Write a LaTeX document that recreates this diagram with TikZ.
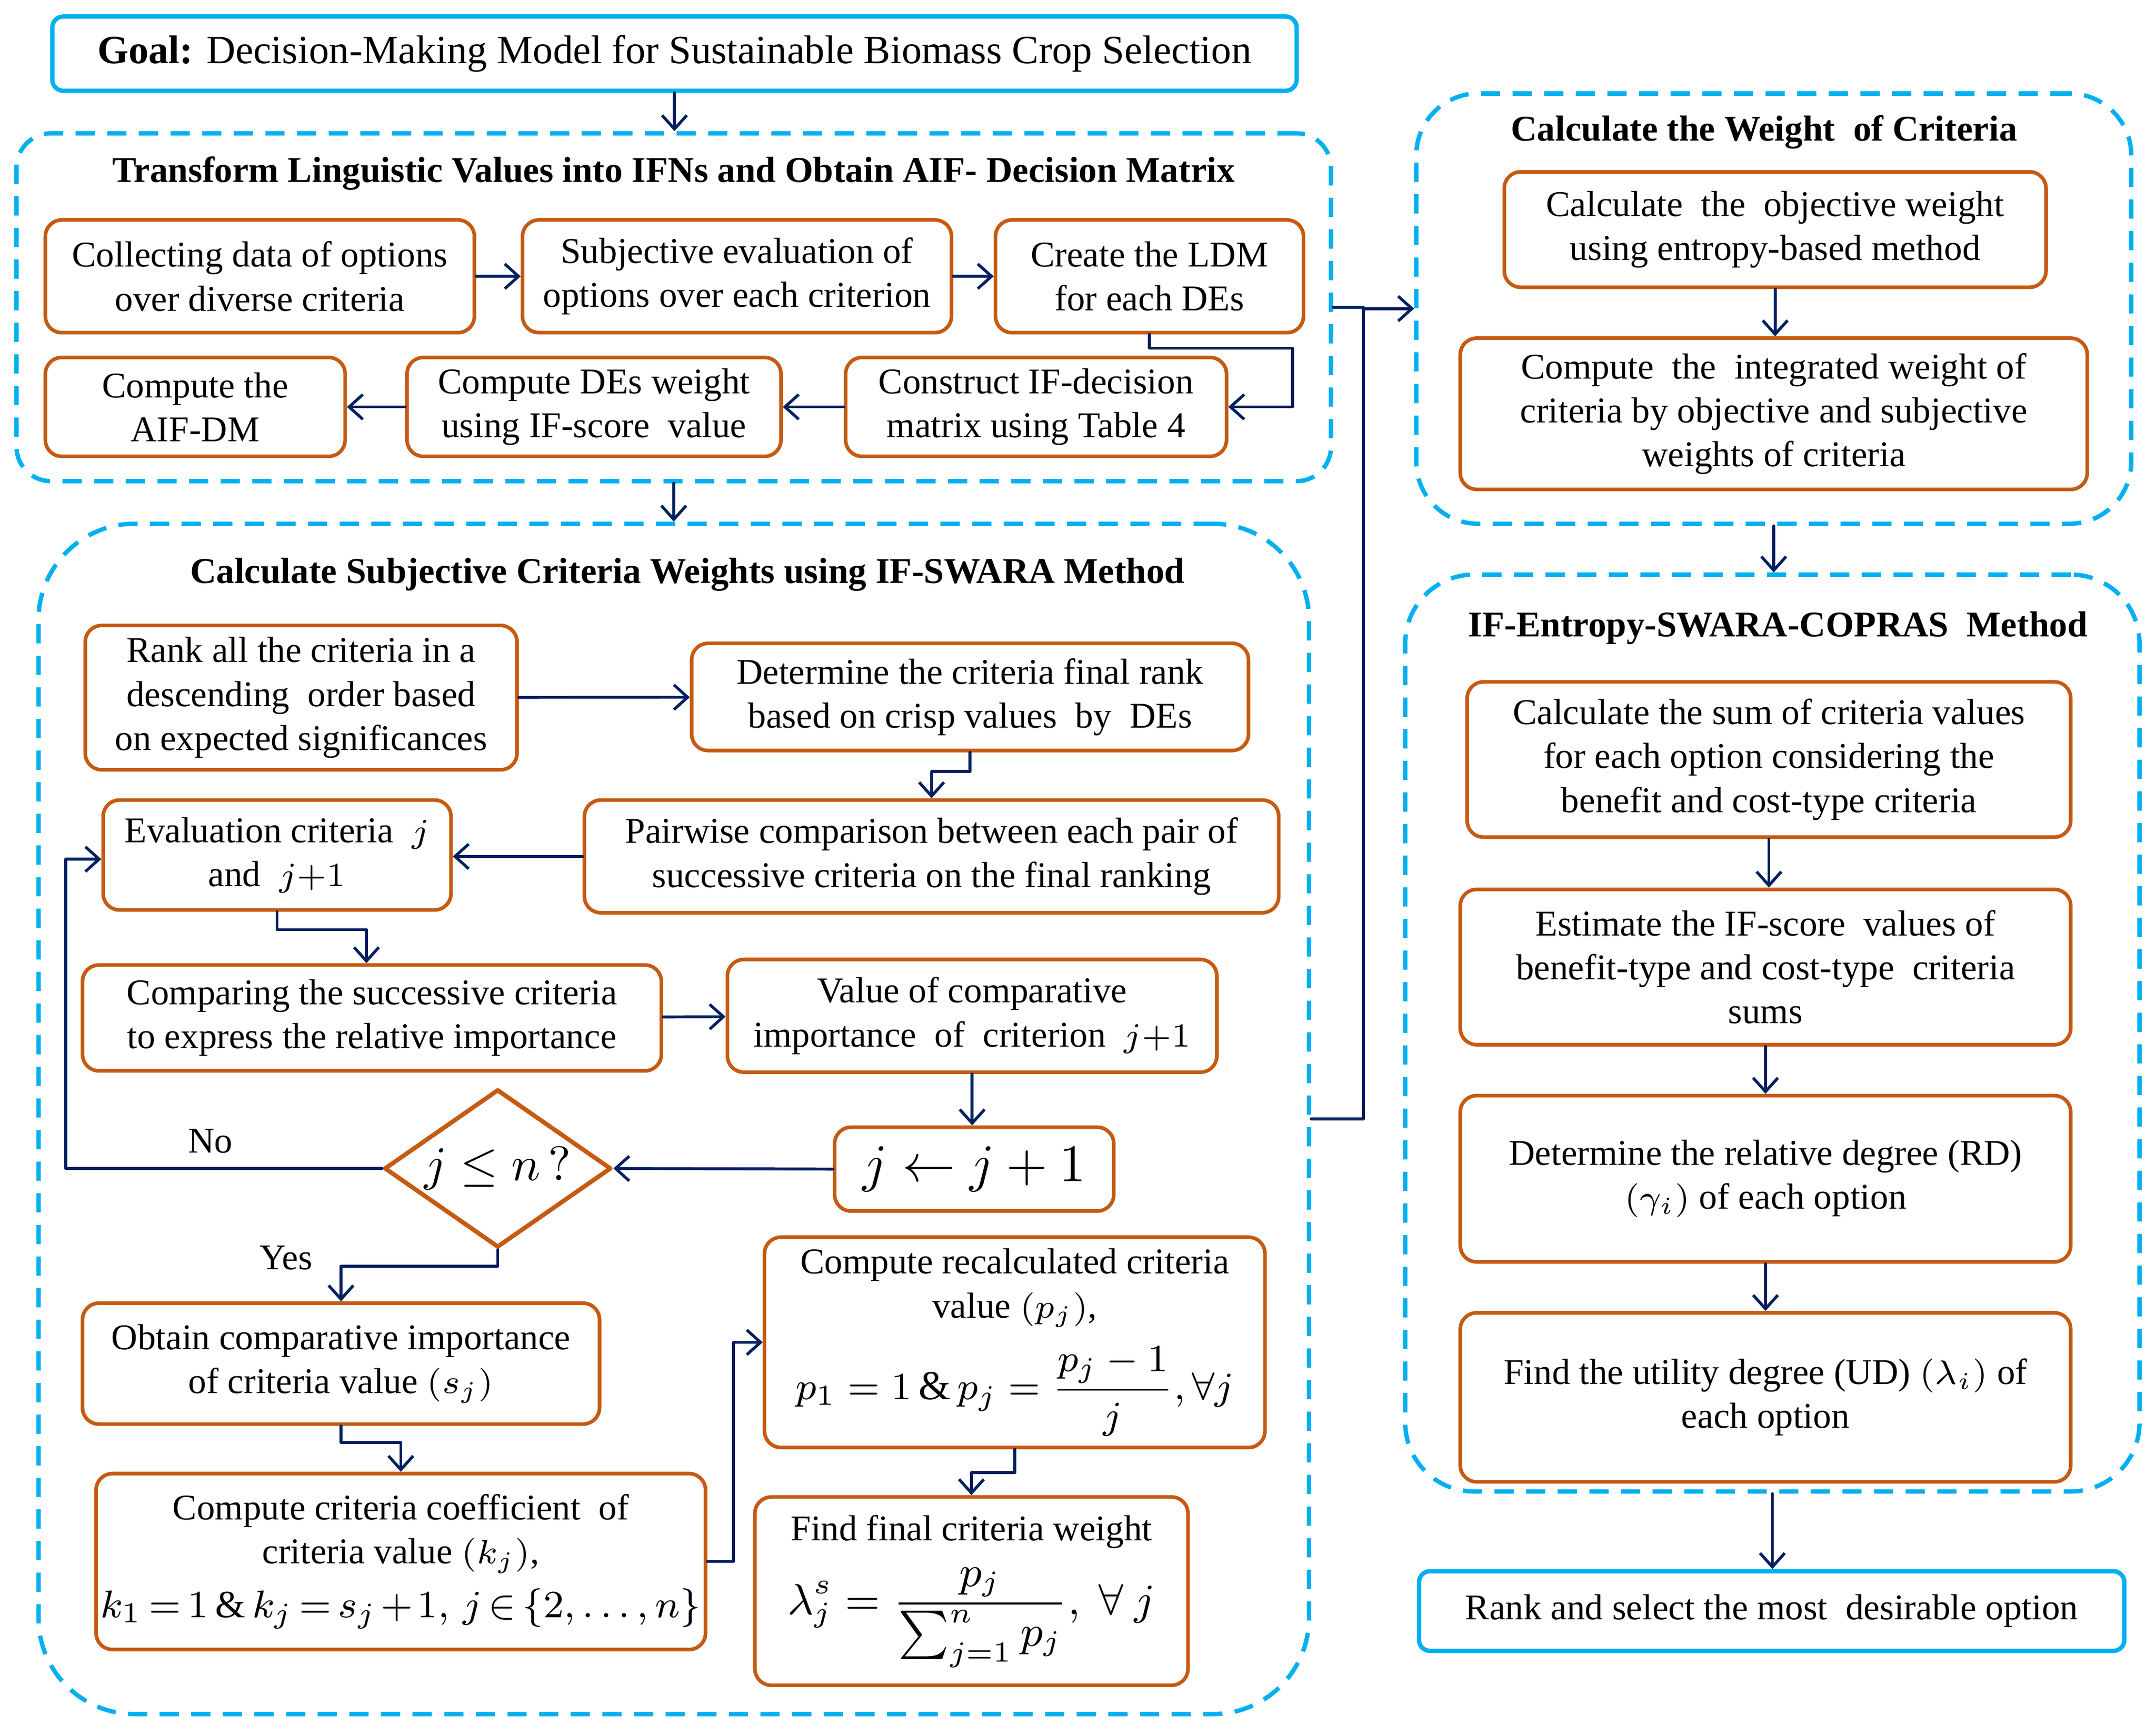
\documentclass[tikz,border=0pt]{standalone}
\usepackage{fontspec}
\setmainfont{Liberation Serif}
\usetikzlibrary{arrows.meta,shapes.geometric}
\definecolor{skyline}{RGB}{0,176,240}
\definecolor{rust}{RGB}{197,90,17}
\definecolor{navy}{RGB}{0,32,96}
\begin{document}
\begin{tikzpicture}[x=0.1mm,y=-0.1mm,>={Straight Barb[length=1mm,width=1.8mm]},
	font=\fontsize{7.5}{9.1}\selectfont, line join=round, line cap=round,
	box/.style={draw=rust,line width=0.75pt,rounded corners=1.2mm,align=center,inner sep=1pt},
	grp/.style={draw=skyline,line width=0.9pt,dash pattern=on 1.4mm off 0.9mm,line cap=butt,inner sep=0pt},
	endbox/.style={draw=skyline,line width=0.9pt,rounded corners=0.8mm,align=center,inner sep=1pt},
	ttl/.style={font=\fontsize{7.5}{9.1}\selectfont\bfseries},
	lnk/.style={draw=navy,line width=0.6pt,->}]
	\useasboundingbox (0,0) rectangle (1568,1262);
	% dashed groups
	\node[grp,rounded corners=2.5mm,minimum width=95.6mm,minimum height=25.3mm] (tlv) at (490,223.5) {};
	\node[grp,rounded corners=7mm,minimum width=92.4mm,minimum height=86.6mm] (sub) at (490,814) {};
	\node[grp,rounded corners=4.5mm,minimum width=52mm,minimum height=31.3mm] (wgt) at (1290,224.5) {};
	\node[grp,rounded corners=5mm,minimum width=53.4mm,minimum height=66.7mm] (cop) at (1289,751.5) {};
	\node[ttl] (tlvT) at (490,126) {Transform Linguistic Values into IFNs and Obtain AIF- Decision Matrix};
	\node[ttl] (subT) at (500,418) {Calculate Subjective Criteria Weights using IF-SWARA Method};
	\node[ttl] (wgtT) at (1283,96) {Calculate the Weight ~of Criteria};
	\node[ttl] (copT) at (1293,457) {IF-Entropy-SWARA-COPRAS ~Method};
	% goal and result
	\node[endbox,minimum width=90.5mm,minimum height=5.4mm,font=\fontsize{8.3}{10}\selectfont] (goal) at (490.5,39) {\textbf{Goal:} Decision-Making Model for Sustainable Biomass Crop Selection};
	\node[endbox,minimum width=51.3mm,minimum height=5.8mm] (rank) at (1288.5,1172) {Rank and select the most ~desirable option};
	% AIF decision matrix
	\node[box,minimum width=31.2mm,minimum height=8.2mm] (A1) at (189,201) {Collecting data of options\\over diverse criteria};
	\node[box,minimum width=31.2mm,minimum height=8.2mm] (A2) at (536,201) {Subjective evaluation of\\options over each criterion};
	\node[box,minimum width=22.4mm,minimum height=8.2mm] (A3) at (836,201) {Create the LDM\\for each DEs};
	\node[box,minimum width=27.7mm,minimum height=7.2mm] (A4) at (753.5,296) {Construct IF-decision\\matrix using Table 4};
	\node[box,minimum width=27.2mm,minimum height=7.2mm] (A5) at (432,296) {Compute DEs weight\\using IF-score ~value};
	\node[box,minimum width=21.8mm,minimum height=7.2mm] (A6) at (142,296) {Compute the\\AIF-DM};
	% weights
	\node[box,minimum width=39.4mm,minimum height=8.4mm] (C1) at (1291,167) {Calculate ~the ~objective weight\\using entropy-based method};
	\node[box,minimum width=45.6mm,minimum height=11mm] (C2) at (1290,301) {Compute ~the ~integrated weight of\\criteria by objective and subjective\\weights of criteria};
	% COPRAS
	\node[box,minimum width=43.9mm,minimum height=11.3mm] (D1) at (1286.5,552.5) {Calculate the sum of criteria values\\for each option considering the\\benefit and cost-type criteria};
	\node[box,minimum width=44.4mm,minimum height=11.3mm] (D2) at (1284,703.5) {Estimate the IF-score ~values of\\benefit-type and cost-type ~criteria\\sums};
	\node[box,minimum width=44.4mm,minimum height=12.1mm] (D3) at (1284,857.5) {Determine the relative degree (RD)\\$(\gamma_i)$ of each option};
	\node[box,minimum width=44.4mm,minimum height=12.3mm] (D4) at (1284,1016.5) {Find the utility degree (UD) $(\lambda_i)$ of\\each option};
	% IF-SWARA
	\node[box,minimum width=31.4mm,minimum height=10.5mm] (B1) at (219,507.5) {Rank all the criteria in a\\descending ~order based\\on expected significances};
	\node[box,minimum width=40.5mm,minimum height=7.8mm] (B2) at (705.5,507) {Determine the criteria final rank\\based on crisp values ~by ~DEs};
	\node[box,minimum width=50.5mm,minimum height=8.2mm] (B3) at (677.5,623) {Pairwise comparison between each pair of\\successive criteria on the final ranking};
	\node[box,minimum width=25.3mm,minimum height=8mm] (B4) at (201.5,622) {Evaluation criteria ~$j$\\and ~$j{+}1$};
	\node[box,minimum width=42.1mm,minimum height=7.7mm] (B5) at (270.5,740.5) {Comparing the successive criteria\\to express the relative importance};
	\node[box,minimum width=35.6mm,minimum height=8.2mm] (B6) at (707,739) {Value of comparative\\importance ~of ~criterion ~$j{+}1$};
	\node[box,minimum width=20.3mm,minimum height=6.1mm,font=\fontsize{11}{13}\selectfont] (B7) at (708.5,850.5) {$j \leftarrow j+1$};
	\node[draw=rust,line width=0.9pt,diamond,aspect=1.43,inner sep=0pt,minimum width=16.5mm,minimum height=11.5mm,font=\fontsize{10}{12}\selectfont] (dia) at (362,850) {$j \le n\,?$};
	\node (no) at (153,830) {No};
	\node (yes) at (208,915) {Yes};
	\node[box,minimum width=37.6mm,minimum height=8.8mm] (B8) at (248,992) {Obtain comparative importance\\of criteria value $\left(s_j\right)$};
	\node[box,minimum width=43.9mm,minimum height=12.8mm] (B9) at (291.5,1136) {Compute criteria coefficient ~of\\criteria value $\left(k_j\right)$,\\[2pt]\fontsize{8}{10}\selectfont$\medmuskip=2mu\thickmuskip=3mu k_1=1\,\&\,k_j=s_j+1,\,j\in\{2,\ldots,n\}$};
	\node[box,minimum width=36.4mm,minimum height=15.3mm] (B10) at (738,976.5) {Compute recalculated criteria\\value $\left(p_j\right)$,\\[3pt]\fontsize{8.5}{10}\selectfont$\displaystyle p_1=1\,\&\,p_j=\frac{p_j-1}{j},\forall j$};
	\node[box,minimum width=31.5mm,minimum height=13.7mm] (B11) at (706.5,1157.5) {Find final criteria weight\\[3pt]\fontsize{9}{10.5}\selectfont$\displaystyle\lambda_j^s=\frac{p_j}{\sum\nolimits_{j=1}^{n}p_j},\ \forall\ j$};
	% connectors
	\draw[lnk] (goal.south) -- (goal.south |- tlv.north);
	\foreach \a/\b in {A1/A2,A2/A3,A4/A5,A5/A6,B1/B2,B5/B6} \draw[lnk] (\a) -- (\b);
	\draw[lnk] (A3.south) -- ++(0,10) -- ++(104,0) |- (A4.east);
	\draw[lnk] (tlv.south) -- (tlv.south |- sub.north);
	\draw[navy,line width=0.6pt] (tlv.east) -- ++(22,0);
	\draw[lnk] (sub.east) -- ++(38,0) |- (wgt.west);
	\foreach \a/\b in {C1/C2,D1/D2,D2/D3,D3/D4,wgt/cop,cop/rank,B6/B7} \draw[lnk] (\a.south) -- (\a.south |- \b.north);
	\draw[lnk] (B2.south) -- ++(0,14) -| (B3.north);
	\draw[lnk] (B3.west) -- (B3.west -| B4.east);
	\draw[lnk] (B4.south) -- ++(0,13) -| ([xshift=-0.4mm]B5.north);
	\draw[lnk] (B7.west) -- (dia.east);
	\draw[lnk] (dia.west) -- ++(-230,0) |- ([yshift=-0.3mm]B4.west);
	\draw[lnk] (dia.south) -- ++(0,12) -| (B8.north);
	\draw[lnk] (B8.south) -- ++(0,12) -| (B9.north);
	\draw[lnk] (B9.east) -- ++(19,0) |- (B10.west);
	\draw[lnk] (B10.south) -- ++(0,17) -| (B11.north);
\end{tikzpicture}
\end{document}
